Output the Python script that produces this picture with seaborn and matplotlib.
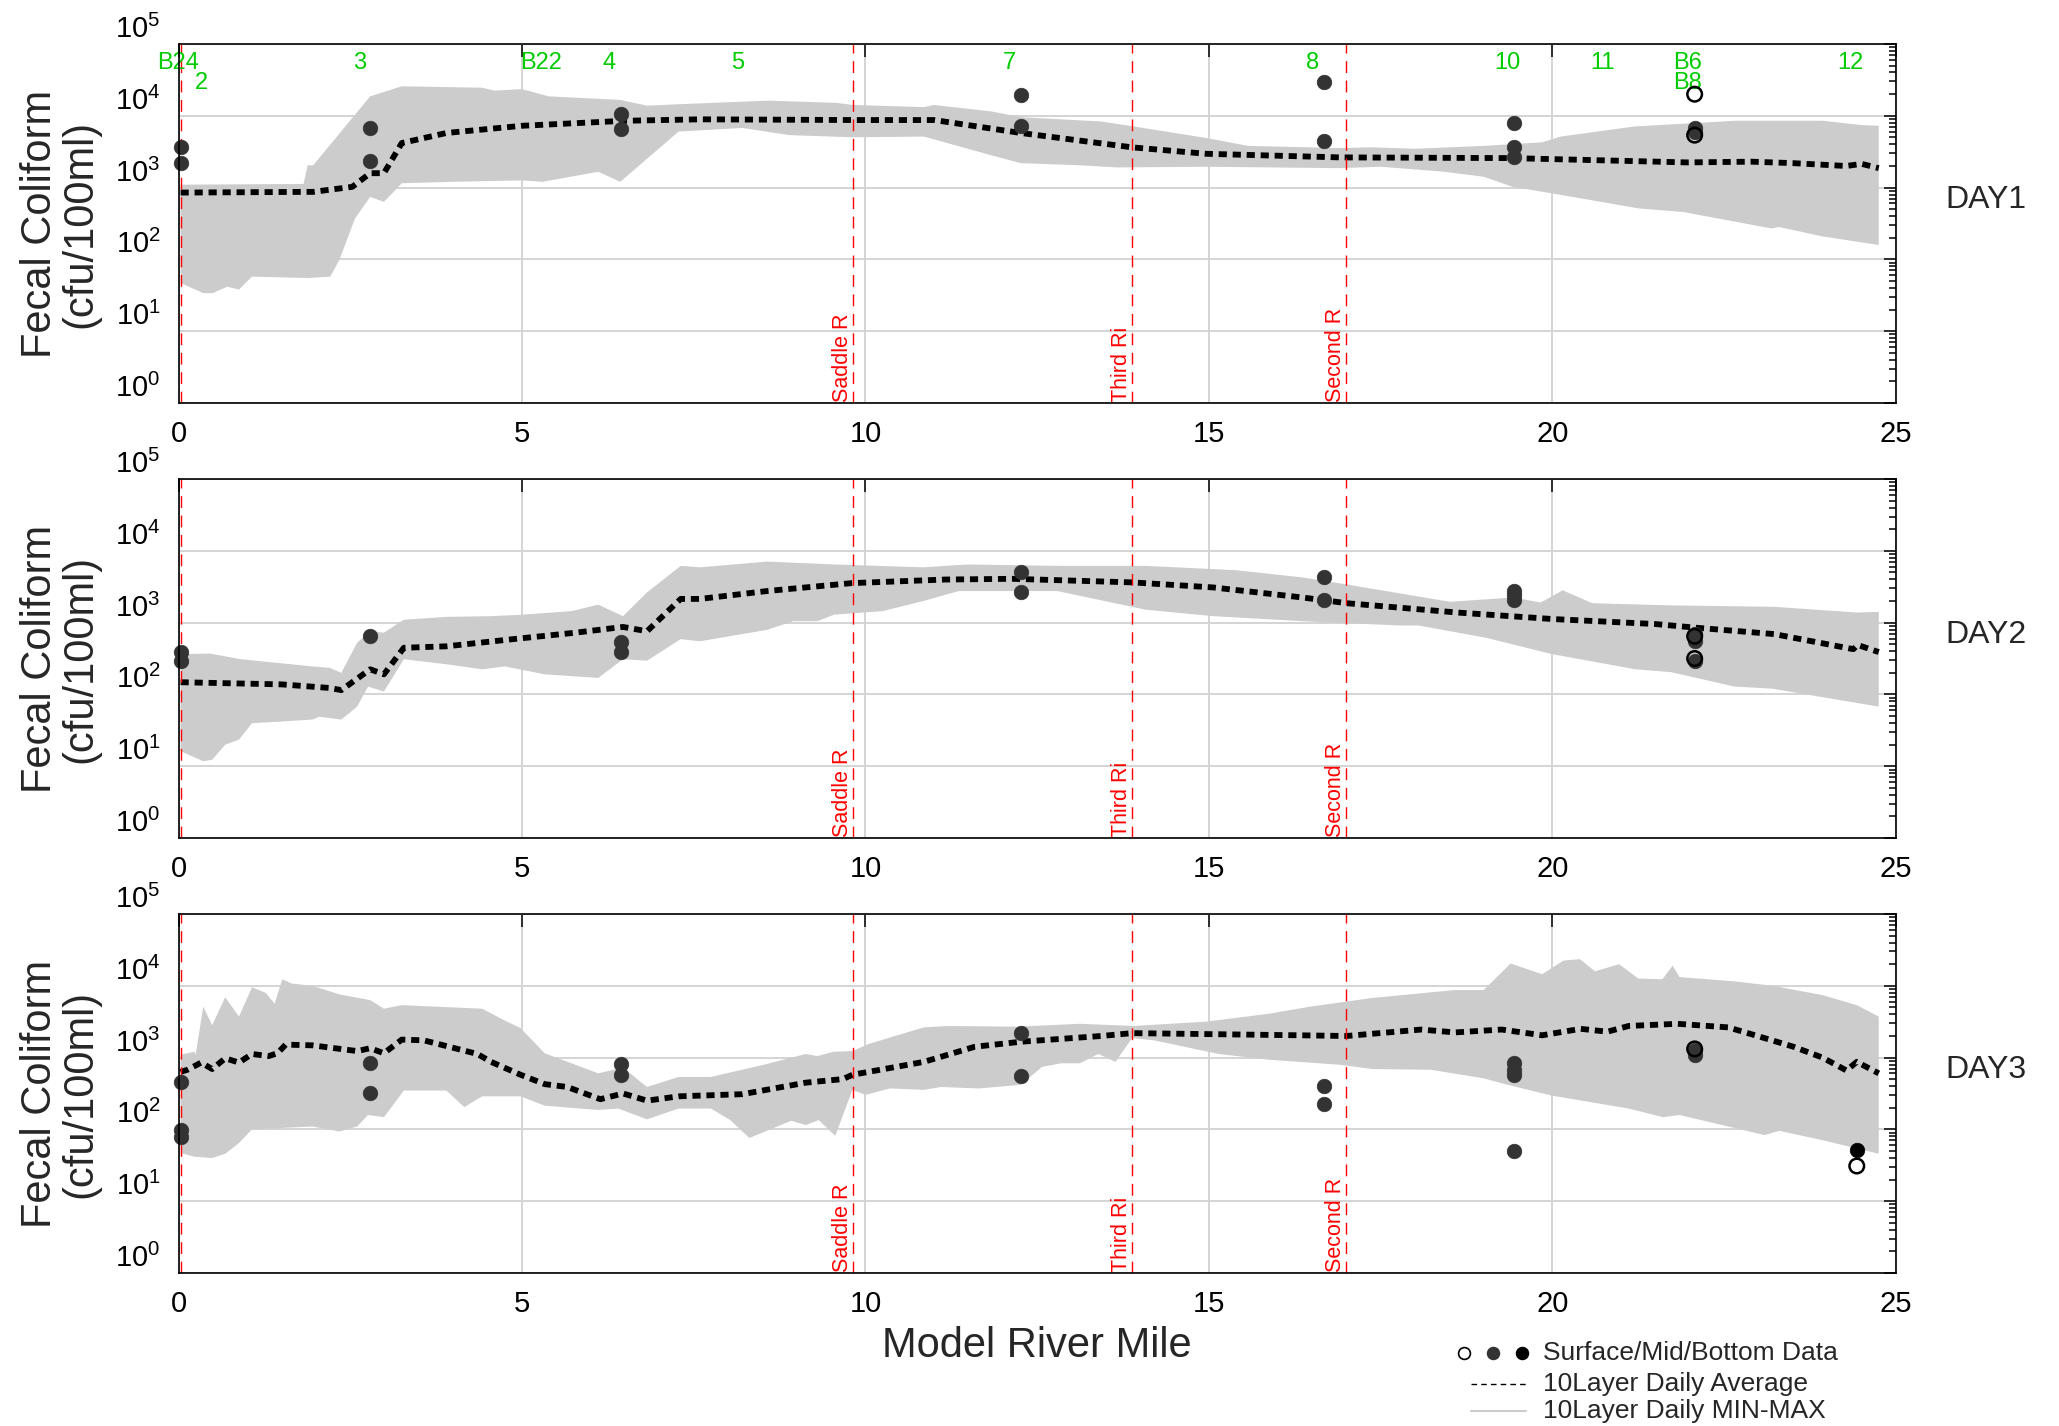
# -*- coding: utf-8 -*-
"""
Fecal coliform along the river, 3 days, model band + observed data
"""
import numpy as np
import pandas as pd
import matplotlib
matplotlib.use('Agg')
import matplotlib.pyplot as plt
import seaborn as sns
from matplotlib.lines import Line2D
from matplotlib.ticker import LogLocator, NullFormatter

# ---- stations / tributaries (river mile)
station_top = ['B24', '3', 'B22', '4', '5', '7', '8', '10', '11', 'B6', '12']
station_top_mile = [0.0, 2.63, 5.28, 6.27, 8.14, 12.09, 16.51, 19.35, 20.73, 21.96, 24.33]
station_second = ['2', 'B8']
station_second_mile = [0.33, 21.96]
trib_names = ['', 'Saddle R', 'Third Ri', 'Second R']
trib_mile = [0.04, 9.82, 13.88, 17.0]

# ---- values, log10(cfu/100ml)
# DAY1
day1_max_mile = [0.03, 1.82, 1.88, 1.96, 2.79, 3.25, 4.42, 4.6, 5.0, 5.39, 6.43, 6.82, 7.28, 8.58, 9.57,
                 9.82, 10.85, 11.0, 11.83, 12.26, 13.43, 13.91, 14.96, 15.57, 16.9, 17.38, 18.0, 19.0,
                 19.85, 20.12, 21.19, 22.66, 23.93, 24.5, 24.75]
day1_max_log = [3.04, 3.05, 3.31, 3.31, 4.27, 4.41, 4.39, 4.35, 4.37, 4.27, 4.22, 4.14, 4.16, 4.21, 4.18,
                4.15, 4.12, 4.15, 4.06, 3.98, 3.92, 3.85, 3.69, 3.58, 3.55, 3.56, 3.54, 3.58,
                3.63, 3.71, 3.85, 3.93, 3.93, 3.87, 3.86]
day1_min_mile = [0.03, 0.36, 0.5, 0.71, 0.88, 1.07, 1.88, 2.21, 2.34, 2.57, 2.79, 2.99, 3.25, 4.0, 5.0,
                 5.3, 6.11, 6.43, 7.28, 8.21, 8.89, 9.82, 10.85, 11.0, 11.83, 12.26, 13.12, 13.67,
                 14.96, 16.9, 17.5, 18.43, 19.0, 19.42, 19.99, 21.25, 21.9, 23.19, 23.3, 23.93, 24.75]
day1_min_log = [1.67, 1.53, 1.53, 1.62, 1.58, 1.76, 1.74, 1.76, 1.99, 2.57, 2.87, 2.80, 3.06, 3.08, 3.10,
                3.08, 3.22, 3.08, 3.78, 3.83, 3.73, 3.70, 3.71, 3.67, 3.45, 3.34, 3.31, 3.28,
                3.29, 3.27, 3.29, 3.22, 3.15, 3.01, 2.92, 2.71, 2.66, 2.43, 2.45, 2.32, 2.20]
day1_avg_mile = [0.03, 1.96, 2.53, 2.79, 2.99, 3.25, 3.9, 5.0, 6.5, 7.6, 9.82, 11.0, 12.26, 13.88,
                 14.96, 16.9, 19.4, 21.96, 22.9, 23.5, 24.28, 24.5, 24.75]
day1_avg_log = [2.93, 2.94, 3.01, 3.20, 3.20, 3.62, 3.76, 3.86, 3.93, 3.95, 3.94, 3.94, 3.76, 3.56,
                3.47, 3.42, 3.41, 3.35, 3.36, 3.34, 3.30, 3.33, 3.27]
day1_obs_mile = [0.03, 0.03, 2.79, 2.79, 6.44, 6.44, 12.26, 12.26, 16.67, 16.67, 19.44, 19.44, 19.44,
                 22.07, 22.07, 22.07, 22.07]
day1_obs_log = [3.57, 3.34, 3.83, 3.37, 4.03, 3.81, 4.29, 3.86, 4.475, 3.65, 3.90, 3.56, 3.42,
                3.83, 3.77, 4.30, 3.73]
day1_obs_layer = ['Mid'] * 15 + ['Surface', 'Surface']

# DAY2
day2_max_mile = [0.03, 0.45, 0.91, 1.95, 2.2, 2.37, 2.6, 2.79, 2.99, 3.28, 3.9, 4.55, 5.0, 5.72, 6.11,
                 6.47, 6.82, 7.31, 7.59, 8.57, 9.54, 10.84, 11.49, 12.79, 14.08, 15.39, 16.36, 17.01,
                 18.51, 19.43, 19.83, 20.15, 20.58, 21.73, 23.23, 24.44, 24.75]
day2_max_log = [2.56, 2.57, 2.49, 2.39, 2.37, 2.30, 2.72, 2.88, 2.86, 3.04, 3.08, 3.09, 3.11, 3.16, 3.25,
                3.09, 3.42, 3.79, 3.77, 3.85, 3.81, 3.77, 3.81, 3.79, 3.79, 3.73, 3.63, 3.53,
                3.29, 3.35, 3.28, 3.45, 3.27, 3.24, 3.22, 3.14, 3.15]
day2_min_mile = [0.03, 0.36, 0.49, 0.68, 0.88, 1.07, 1.45, 1.95, 2.05, 2.37, 2.6, 2.76, 2.99, 3.28, 3.9,
                 4.42, 4.75, 5.33, 6.11, 6.47, 6.82, 7.31, 7.59, 8.57, 8.95, 9.3, 9.54, 10.25, 10.84,
                 11.36, 12.79, 14.08, 15.06, 16.36, 17.78, 18.05, 19.03, 20.0, 21.21, 21.73, 22.65,
                 23.2, 24.75]
day2_min_log = [1.21, 1.07, 1.09, 1.30, 1.37, 1.60, 1.62, 1.65, 1.69, 1.65, 1.83, 2.11, 2.04, 2.49, 2.42,
                2.35, 2.39, 2.28, 2.23, 2.49, 2.47, 2.77, 2.74, 2.90, 3.02, 3.02, 3.11, 3.16, 3.30,
                3.44, 3.44, 3.18, 3.09, 3.02, 2.96, 2.96, 2.79, 2.56, 2.35, 2.31, 2.11,
                2.08, 1.83]
day2_avg_mile = [0.03, 1.5, 2.2, 2.37, 2.79, 2.99, 3.28, 3.9, 4.87, 5.78, 6.47, 6.82, 7.31, 7.59, 8.57,
                 9.8, 11.16, 12.14, 13.89, 15.06, 16.36, 17.01, 18.62, 20.0, 21.5, 22.08, 23.23,
                 24.38, 24.44, 24.75]
day2_avg_log = [2.17, 2.14, 2.09, 2.06, 2.35, 2.28, 2.65, 2.67, 2.77, 2.86, 2.94, 2.88, 3.33, 3.33, 3.44,
                3.55, 3.60, 3.61, 3.56, 3.49, 3.35, 3.27, 3.14, 3.05, 2.98, 2.93, 2.84,
                2.63, 2.69, 2.59]
day2_obs_mile = [0.03, 0.03, 2.79, 6.44, 6.44, 12.26, 12.26, 16.67, 16.67, 19.44, 19.44, 19.44,
                 22.07, 22.07, 22.07, 22.07, 22.07]
day2_obs_log = [2.59, 2.46, 2.81, 2.73, 2.59, 3.71, 3.43, 3.63, 3.32, 3.44, 3.38, 3.32,
                2.84, 2.74, 2.46, 2.81, 2.50]
day2_obs_layer = ['Mid'] * 15 + ['Surface', 'Surface']

# DAY3
day3_max_mile = [0.03, 0.23, 0.25, 0.36, 0.49, 0.68, 0.88, 1.07, 1.27, 1.40, 1.51, 1.65, 1.95, 2.34,
                 2.79, 2.99, 3.25, 4.42, 4.74, 4.98, 5.33, 6.11, 6.47, 6.82, 7.28, 7.75, 8.52, 9.13,
                 9.3, 9.53, 9.81, 10.05, 10.36, 10.85, 11.2, 12.2, 13.12, 13.91, 14.96, 15.87, 16.48,
                 17.38, 18.58, 19.0, 19.39, 19.85, 20.16, 20.4, 20.62, 20.97, 21.25, 21.6, 21.75,
                 21.85, 22.66, 23.2, 23.93, 24.43, 24.75]
day3_max_log = [3.04, 3.08, 3.04, 3.71, 3.45, 3.84, 3.57, 3.98, 3.90, 3.75, 4.09, 4.03, 4.00, 3.88,
                3.80, 3.68, 3.73, 3.68, 3.52, 3.41, 3.06, 2.78, 2.86, 2.59, 2.73, 2.73, 2.90, 3.05,
                3.02, 3.08, 3.09, 3.19, 3.28, 3.42, 3.44, 3.43, 3.47, 3.44, 3.50, 3.61, 3.71,
                3.83, 3.94, 3.94, 4.31, 4.16, 4.35, 4.37, 4.20, 4.30, 4.10, 4.09, 4.28,
                4.12, 4.06, 4.00, 3.87, 3.73, 3.57]
day3_min_mile = [0.03, 0.23, 0.49, 0.68, 0.88, 1.07, 1.95, 2.34, 2.6, 2.76, 2.99, 3.28, 3.9, 4.16, 4.42,
                 4.98, 5.33, 6.11, 6.4, 6.82, 7.28, 7.75, 8.03, 8.31, 8.92, 9.13, 9.32, 9.56, 9.81,
                 10.0, 10.36, 10.85, 11.1, 11.65, 12.26, 12.57, 12.85, 13.12, 13.39, 13.64, 13.88,
                 14.2, 15.14, 15.87, 16.9, 17.38, 18.23, 19.0, 19.35, 19.99, 21.11, 21.61, 21.85,
                 23.09, 23.3, 23.93, 24.75]
day3_min_log = [1.67, 1.62, 1.60, 1.66, 1.81, 2.00, 2.04, 1.97, 2.04, 2.20, 2.17, 2.54, 2.54, 2.31, 2.46,
                2.46, 2.33, 2.27, 2.29, 2.14, 2.29, 2.29, 2.13, 1.88, 2.12, 2.06, 2.13, 1.91, 2.55,
                2.48, 2.57, 2.55, 2.59, 2.57, 2.62, 2.87, 2.92, 2.92, 3.05, 2.94, 3.27,
                3.24, 3.05, 2.97, 2.90, 2.84, 2.83, 2.71, 2.62, 2.47, 2.29, 2.17, 2.20,
                1.92, 1.98, 1.85, 1.66]
day3_avg_mile = [0.03, 0.13, 0.33, 0.49, 0.68, 0.88, 1.07, 1.31, 1.44, 1.56, 1.95, 2.6, 2.79, 2.99,
                 3.25, 3.57, 4.35, 4.55, 4.98, 5.33, 5.66, 6.14, 6.47, 6.82, 7.28, 8.21, 9.13, 9.67,
                 9.81, 10.85, 11.59, 12.26, 13.43, 13.88, 16.32, 17.0, 18.09, 18.58, 19.26, 19.85,
                 20.41, 20.8, 21.11, 21.82, 22.56, 22.95, 23.51, 23.93, 24.28, 24.43, 24.75]
day3_avg_log = [2.80, 2.83, 2.93, 2.84, 2.99, 2.93, 3.05, 3.02, 3.06, 3.18, 3.17, 3.09, 3.13, 3.06,
                3.25, 3.24, 3.05, 2.94, 2.76, 2.63, 2.59, 2.42, 2.50, 2.40, 2.46, 2.49, 2.65, 2.70,
                2.76, 2.94, 3.15, 3.22, 3.30, 3.34, 3.31, 3.30, 3.39, 3.35, 3.39, 3.31,
                3.40, 3.36, 3.44, 3.47, 3.42, 3.31, 3.15, 3.00, 2.82, 2.94, 2.78]
day3_obs_mile = [0.03, 0.03, 0.03, 2.79, 2.79, 6.44, 6.44, 12.26, 12.26, 16.67, 16.67,
                 19.44, 19.44, 19.44, 19.44, 22.07, 22.07, 22.07, 24.43, 24.43]
day3_obs_log = [2.66, 1.99, 1.89, 2.92, 2.50, 2.91, 2.76, 3.34, 2.74, 2.61, 2.36,
                2.92, 2.83, 2.76, 1.70, 3.10, 3.04, 3.12, 1.71, 1.49]
day3_obs_layer = ['Mid'] * 17 + ['Surface', 'Bottom', 'Surface']

days = [
    ('DAY1', day1_max_mile, day1_max_log, day1_min_mile, day1_min_log, day1_avg_mile, day1_avg_log,
     day1_obs_mile, day1_obs_log, day1_obs_layer),
    ('DAY2', day2_max_mile, day2_max_log, day2_min_mile, day2_min_log, day2_avg_mile, day2_avg_log,
     day2_obs_mile, day2_obs_log, day2_obs_layer),
    ('DAY3', day3_max_mile, day3_max_log, day3_min_mile, day3_min_log, day3_avg_mile, day3_avg_log,
     day3_obs_mile, day3_obs_log, day3_obs_layer),
]

GREEN = '#00cc00'
BAND = '#cccccc'
MID = '#333333'
AVG_DASH = (0, (1.4, 1.0))
TRIB_DASH = (0, (8.5, 5.5))

sns.set_style('white')
plt.rcParams['font.family'] = ['Liberation Sans', 'DejaVu Sans']
plt.rcParams['axes.linewidth'] = 1.2

fig = plt.figure(figsize=(20.59, 14.26), dpi=100)
bottoms = [0.7174, 0.4123, 0.1073]
axes = [fig.add_axes([0.0867, b, 0.8341, 0.2518]) for b in bottoms]

dec = [1, 10, 100, 1000, 1e4, 1e5]
dec_labels = [r'$\mathdefault{10^{%d}}$' % i for i in range(6)]

for ax, (name, mx_m, mx_l, mn_m, mn_l, av_m, av_l, ob_m, ob_l, ob_layer) in zip(axes, days):
    ax.set_yscale('log')
    ax.set_xlim(0, 25)
    ax.set_ylim(1, 1e5)

    # min-max band (upper edge then lower edge back)
    band_x = list(mx_m) + list(mn_m)[::-1]
    band_y = list(np.power(10.0, mx_l)) + list(np.power(10.0, mn_l))[::-1]
    ax.fill(band_x, band_y, color=BAND, lw=0, zorder=1)

    # daily average
    sns.lineplot(x=av_m, y=np.power(10.0, av_l), ax=ax, color='black', lw=4.2,
                 linestyle=AVG_DASH, sort=False, estimator=None, zorder=3)

    # tributaries
    for tm, tn in zip(trib_mile, trib_names):
        ax.axvline(tm, color='red', lw=1.0, linestyle=TRIB_DASH, zorder=4)
        if tn:
            ax.text(tm, 0.003, tn, transform=ax.get_xaxis_transform(), rotation=90,
                    ha='right', va='bottom', color='red', fontsize=15.5, zorder=4)

    # observations
    obs = pd.DataFrame({'mile': ob_m, 'cfu': np.power(10.0, ob_l), 'layer': ob_layer})
    mid = obs[obs['layer'] == 'Mid']
    bot = obs[obs['layer'] == 'Bottom']
    sur = obs[obs['layer'] == 'Surface']
    sns.scatterplot(data=mid, x='mile', y='cfu', ax=ax, s=110, color=MID, edgecolor=MID,
                    linewidth=0.5, zorder=5, legend=False, clip_on=False)
    if len(bot):
        sns.scatterplot(data=bot, x='mile', y='cfu', ax=ax, s=110, color='black', edgecolor='black',
                        linewidth=0.5, zorder=6, legend=False)
    if len(sur):
        sns.scatterplot(data=sur, x='mile', y='cfu', ax=ax, s=110, color='black', facecolors='none',
                        edgecolor='black', linewidth=1.8, zorder=7, legend=False)

    ax.set_xlabel('')
    ax.set_ylabel('')
    ax.set_xticks([0, 5, 10, 15, 20, 25])
    ax.set_yticks(dec, labels=dec_labels, va='bottom')
    ax.yaxis.set_minor_locator(LogLocator(base=10, subs=np.arange(2, 10), numticks=20))
    ax.yaxis.set_minor_formatter(NullFormatter())
    ax.grid(True, which='major', color='#d4d4d4', lw=1.4, zorder=0)
    ax.set_axisbelow(True)
    ax.tick_params(which='both', direction='in', top=True, right=True, width=1.1, colors='black')
    ax.tick_params(which='major', length=9, labelsize=21)
    ax.tick_params(which='minor', length=5)
    ax.tick_params(axis='x', pad=12)
    ax.tick_params(axis='y', pad=13)
    for sp in ax.spines.values():
        sp.set_color('black')
        sp.set_zorder(8)

    ax.text(-0.069, 0.5, 'Fecal Coliform\n(cfu/100ml)', transform=ax.transAxes, rotation=90,
            ha='center', va='center', fontsize=30, linespacing=1.0, multialignment='center')
    ax.text(1.029, 0.565, name, transform=ax.transAxes, ha='left', va='center', fontsize=23)

# station names on top panel
for sn, sm in zip(station_top, station_top_mile):
    axes[0].text(sm, 0.947, sn, transform=axes[0].get_xaxis_transform(), ha='center', va='center',
                 color=GREEN, fontsize=17, zorder=6)
for sn, sm in zip(station_second, station_second_mile):
    axes[0].text(sm, 0.891, sn, transform=axes[0].get_xaxis_transform(), ha='center', va='center',
                 color=GREEN, fontsize=17, zorder=6)

fig.text(0.5036, 0.0561, 'Model River Mile', ha='center', va='center', fontsize=30)

# legend (bottom right)
W, H = 2059.0, 1426.0
def fx(px):
    return px / W
def fy(py):
    return 1 - py / H

for cx, fc in zip([1464, 1493, 1522], ['white', MID, 'black']):
    fig.add_artist(Line2D([fx(cx)], [fy(1353)], marker='o', markersize=8.5, markerfacecolor=fc,
                          markeredgecolor='black' if fc != MID else MID, markeredgewidth=1.2,
                          linestyle='none', transform=fig.transFigure))
fig.add_artist(Line2D([fx(1471), fx(1526)], [fy(1384), fy(1384)], color='black', lw=1.0,
                      linestyle=(0, (4, 3)), transform=fig.transFigure))
fig.add_artist(Line2D([fx(1471), fx(1526)], [fy(1411), fy(1411)], color=BAND, lw=1.5,
                      transform=fig.transFigure))
fig.text(fx(1543), fy(1353), 'Surface/Mid/Bottom Data', ha='left', va='center', fontsize=19)
fig.text(fx(1543), fy(1384), '10Layer Daily Average', ha='left', va='center', fontsize=19)
fig.text(fx(1543), fy(1411), '10Layer Daily MIN-MAX', ha='left', va='center', fontsize=19)

fig.savefig('out.png', dpi=100)
